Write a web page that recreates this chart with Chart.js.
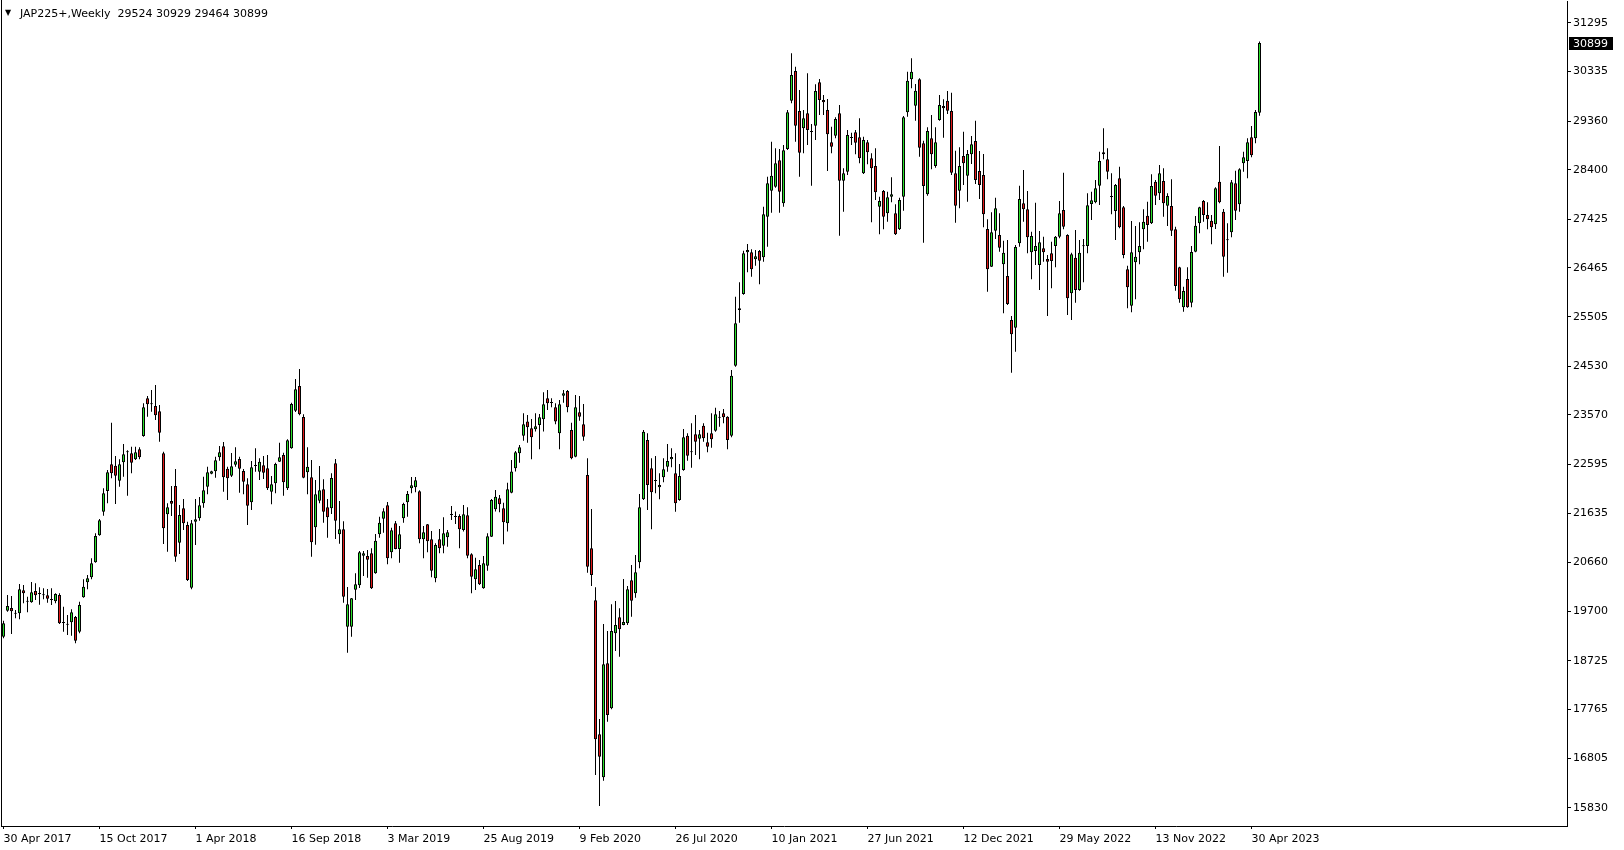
<!DOCTYPE html>
<html>
<head>
<meta charset="utf-8">
<title>JAP225+ Weekly</title>
<script src="https://cdn.jsdelivr.net/npm/chart.js@4.4.1/dist/chart.umd.min.js"></script>
<style>
  html, body { margin: 0; padding: 0; background: #fff; }
  #wrap { position: relative; width: 1624px; height: 850px; }
  #tri { position: absolute; left: 5px; top: 8px; font: 8px "DejaVu Sans", sans-serif; color: #000; }
  #title { position: absolute; left: 20px; top: 7px; font: 11px "DejaVu Sans", sans-serif; color: #000; white-space: pre; line-height: 13px; }
</style>
</head>
<body>
<div id="wrap">
  <canvas id="chart" width="1624" height="850"></canvas>
  <span id="tri">▼</span>
  <div id="title"></div>
</div>
<script>
// Weekly candles, first bar = week of 30 Apr 2017
const opens = [
  19201,19714,19766,19661,19661,20114,19891,19878,20101,20042,
  20029,20016,19937,19898,20022,19484,19438,19484,19589,19300,
  19976,20272,20370,20666,21198,21664,22071,22597,22570,22275,
  22636,22833,22813,22695,22892,23155,23897,23792,23746,23641,
  22813,21611,21874,22170,21053,21730,21401,20167,21467,21533,
  21828,22157,22413,22459,22734,22951,22511,22373,22590,22702,
  22465,22203,21848,22564,22452,22577,22518,22058,22222,22649,
  22780,22124,22912,23654,24140,23529,22439,22340,21355,21881,
  22104,21749,21730,22616,21217,21316,19398,19398,20127,20213,
  20797,20791,20843,20449,21217,21526,21789,20863,21435,20929,
  21533,21848,22124,22144,22065,21119,21415,21119,20351,21119,
  20995,21159,21612,21573,21579,21303,21592,20824,20331,20614,
  20154,20601,21172,21711,21927,21730,21435,22039,22518,22814,
  23162,23438,23306,23287,23372,23484,23897,23819,23720,23208,
  23950,24042,23273,22748,23622,23385,22387,20942,19918,17278,
  16431,18677,17790,19268,19583,19432,19465,20312,20056,20666,
  21907,23076,22517,22281,22143,22340,22550,22695,22419,21894,
  22485,23161,22846,23187,23102,23358,23030,23207,23259,23529,
  23601,23535,23161,24540,25670,25952,26773,26773,26635,26799,
  26674,27475,27988,28067,28586,27739,28809,29761,30346,29558,
  29216,29512,29157,29269,30122,29774,29577,28940,29072,29512,
  28185,28363,29039,29137,29039,28330,28940,28625,28474,27673,
  27982,27542,27870,27542,27226,27870,29531,30181,29662,30181,
  28920,27916,29019,28474,29380,29656,29761,29557,28329,27988,
  28671,28283,28704,28966,28375,28296,27233,26490,27200,27114,
  26536,26307,25440,25289,26950,27738,27620,26773,26799,26523,
  26852,26642,26753,26898,27082,27607,27114,25965,26668,26031,
  26904,26898,27725,27758,28086,28704,28605,27876,27587,28231,
  27659,26438,25722,26576,26773,27226,27495,27344,28165,27935,
  28178,27692,27686,27226,26477,25689,26247,25781,26786,27344,
  27784,27508,27397,27324,28165,27574,27022,27167,28132,27718,
  28526,28572,29038,29019,29524
];
const highs = [
  19517,20022,20003,19727,20239,20219,19989,20278,20252,20173,
  20154,20140,20154,20055,20055,19792,19628,19740,19609,19891,
  20331,20416,20745,21237,21520,22124,22485,23417,22761,22695,
  22997,22872,22945,22945,22931,23798,23943,24061,24159,23765,
  22846,21828,22170,22505,21795,21914,21467,21500,21914,21953,
  22354,22551,22472,22748,22958,23037,22551,22820,22931,22748,
  22505,22321,22662,22912,22715,22761,22780,22367,22629,23023,
  22826,23089,23811,24278,24475,23582,22931,22682,22288,22564,
  22301,21914,22419,22702,21874,21474,20180,19963,20449,20889,
  20889,20909,20942,21224,21565,21730,21855,21349,21481,21382,
  21842,22072,22347,22347,22085,21382,21421,21284,21041,21323,
  21553,21303,21776,21665,21612,21796,21750,20844,20758,20712,
  20791,21238,21914,22091,21993,21842,22236,22682,22860,22978,
  23602,23569,23490,23602,23589,24016,24061,23897,23799,23864,
  24061,24061,23418,23963,23943,23786,22715,21717,20174,17580,
  19451,19314,19839,19905,19760,20338,20200,20614,20811,22013,
  23273,23207,22714,22760,22419,22714,22997,22911,22813,22603,
  23292,23207,23404,23568,23273,23404,23220,23601,23713,23647,
  23686,23542,24455,25899,26182,26806,26937,26832,26819,26819,
  27672,28264,28954,28822,28809,28888,29577,30694,30431,29971,
  29577,30300,29302,30083,30188,29873,29794,29249,29433,29676,
  28428,29183,29131,29183,29413,29052,28986,28724,28822,27870,
  28001,27969,28251,27719,27850,29459,30332,30595,30089,30201,
  28973,29235,29478,29235,29872,29787,29951,29918,28776,28841,
  29150,28789,29065,29367,28769,28710,27423,27561,27850,27541,
  27003,27016,25519,26917,28086,28395,27981,27180,27751,27193,
  27082,26720,26983,27095,27784,28342,27127,26766,27213,27016,
  27036,27935,27968,28198,28756,29216,28822,28329,28119,28461,
  27686,26510,27390,27292,27364,27620,27771,28310,28198,28493,
  28428,27935,28211,27279,26490,26096,26477,26898,27489,27672,
  27804,27758,27508,28053,28868,27627,27344,28198,28382,28428,
  28756,29019,29262,29577,30929
];
const lows = [
  19169,19694,19254,19563,19543,19858,19681,19871,19924,19832,
  19937,19871,19825,19858,19451,19300,19234,19221,19070,19267,
  19970,20134,20331,20660,21191,21585,21828,22321,21815,22157,
  22354,21979,22419,22682,22695,23142,23536,23634,23470,23043,
  21027,20876,21579,20679,20830,21303,20298,20134,21007,21487,
  21743,22006,22400,22334,22669,22058,21894,22347,22551,22038,
  22006,21401,21697,22452,22288,22308,22091,21808,22025,22643,
  21979,22091,22905,23628,23562,22321,22006,20777,21014,21828,
  21447,21152,21618,21126,21034,19871,18886,19201,19924,20160,
  20397,20364,20140,20442,21152,21250,20627,20745,20922,20660,
  21448,21566,22026,22045,21041,20745,20863,20371,20272,20844,
  20844,20975,21500,21422,20942,21271,20745,20056,20121,20220,
  20147,20502,21165,21665,21651,21021,21271,22026,22453,22630,
  23063,23024,22696,23241,22893,23241,23667,23720,23385,22893,
  23812,23622,22696,22735,23457,23063,20463,20200,16477,15866,
  16365,17527,17770,18920,18808,19425,19432,19596,19970,20548,
  21894,21697,21316,22025,21907,22242,22452,22537,21664,21881,
  22472,22668,22531,22780,22695,23043,22833,22925,23240,23338,
  23404,22892,23128,24520,25387,25939,26379,26293,26510,26142,
  26589,26884,27555,28047,27555,27673,28789,29709,28954,28264,
  28724,28888,28087,28986,29479,29479,28376,28724,29019,27102,
  27574,28297,28888,28704,28527,28317,28507,27364,27804,27128,
  27226,27377,27758,27115,27213,27594,29446,30004,29367,28658,
  26963,27889,28408,28441,29367,29032,29498,28296,27357,27640,
  28099,27771,28513,28119,27824,27265,25998,26484,27036,26786,
  25571,25735,24402,24816,26884,27377,26753,26241,26523,26031,
  26589,25519,26064,26477,27049,27226,25538,25440,25781,26018,
  26182,26753,27410,27738,27705,28605,28211,27522,27016,27246,
  26655,25670,25591,25847,26537,26832,26983,27331,27705,27804,
  27475,27292,27095,26018,25781,25604,25683,25689,26773,27147,
  27377,27226,26930,27233,27738,26293,26372,27068,27410,27574,
  28362,28231,28644,28920,29464
];
const closes = [
  19464,19806,19700,19654,20134,20055,19904,20075,20016,20055,
  20016,19950,19924,20042,19464,19471,19451,19681,19123,19825,
  20186,20351,20646,21185,21493,22025,22439,22419,22373,22597,
  22794,22846,22629,22833,22734,23719,23779,23779,23562,23220,
  21336,21749,21822,20777,21598,21434,20318,21434,21513,21789,
  22084,22439,22459,22675,22833,22340,22321,22557,22656,22511,
  22255,21782,22537,22577,22649,22432,22124,22202,22603,22734,
  22242,23069,23785,24074,23582,22334,22551,21060,22006,22084,
  21664,21552,22327,21487,21316,19989,19838,19957,20232,20863,
  20843,20718,20154,21093,21447,21671,20745,21297,20929,21218,
  21816,22013,22183,22282,21119,21257,21080,20502,21008,20942,
  21238,21257,21599,21559,21316,21612,20798,20384,20528,20233,
  20647,21179,21894,21960,21809,21454,22105,22453,22833,22932,
  23385,23326,23129,23346,23523,23779,23799,23805,23438,23779,
  23996,23720,22715,23720,23536,23142,20581,20417,17179,16838,
  18657,17659,19314,19432,19346,19491,20134,19911,20469,21750,
  23240,22189,22045,22268,22189,22498,22662,22741,21828,22366,
  23128,22767,22833,23043,23187,23108,22944,23089,23581,23516,
  23522,23076,24343,25374,25637,26753,26819,26438,26694,26609,
  27521,28132,28284,28527,27969,28783,29531,30267,29269,28737,
  29413,29183,29144,29952,29774,29728,29098,28855,29400,28185,
  28330,29085,29026,28934,28625,28986,28743,28428,27955,27785,
  27476,27857,27916,27128,27804,29432,30155,30332,29958,28835,
  28080,29163,28704,28940,29675,29610,29564,28342,27692,28474,
  28526,28710,28901,28198,28099,27521,26438,27167,27640,26865,
  26766,25755,25157,26878,27824,27620,27068,27095,26898,26970,
  26773,26589,26602,27082,27541,27279,25867,26734,26031,26766,
  26891,27699,27797,28034,28572,28743,28362,27863,28099,27265,
  26720,26083,26773,26688,26898,27377,27311,28080,27889,28329,
  27738,27883,27200,26110,25847,26011,25689,26779,27298,27659,
  27508,27423,27265,28034,27758,26687,27009,28152,27594,28408,
  28644,28940,28684,29538,30899
];

// axis labels
const dateTicks = ['30 Apr 2017', '15 Oct 2017', '1 Apr 2018', '16 Sep 2018', '3 Mar 2019',
  '25 Aug 2019', '9 Feb 2020', '26 Jul 2020', '10 Jan 2021', '27 Jun 2021',
  '12 Dec 2021', '29 May 2022', '13 Nov 2022', '30 Apr 2023'];
const weeksPerTick = 24;
const priceTicks = [31295, 30335, 29360, 28400, 27425, 26465, 25505, 24530, 23570,
  22595, 21635, 20660, 19700, 18725, 17765, 16805, 15830];

const symbol = 'JAP225+';
const period = 'Weekly';

const bull = '#2ae02a';
const bear = '#e01818';
const axisFont = { family: '"DejaVu Sans", sans-serif', size: 11 };

const last = opens.length - 1;
document.getElementById('title').textContent =
  symbol + ',' + period + '  ' + [opens[last], highs[last], lows[last], closes[last]].join(' ');

// left frame line of the price window
const frame = {
  id: 'frame',
  afterDraw(chart) {
    const { ctx, chartArea: a } = chart;
    ctx.save();
    ctx.strokeStyle = '#000';
    ctx.lineWidth = 1;
    ctx.beginPath();
    ctx.moveTo(a.left + 0.5, 0);
    ctx.lineTo(a.left + 0.5, a.bottom);
    ctx.stroke();
    ctx.restore();
  }
};

// black tag with the last close on the price scale
const lastPriceTag = {
  id: 'lastPriceTag',
  afterDraw(chart) {
    const { ctx, chartArea: a, scales: { y } } = chart;
    const price = closes[last];
    const py = Math.round(y.getPixelForValue(price));
    ctx.save();
    ctx.fillStyle = '#000';
    ctx.fillRect(a.right + 2, py - 6, 44, 13);
    ctx.fillStyle = '#fff';
    ctx.font = '11px "DejaVu Sans", sans-serif';
    ctx.textBaseline = 'middle';
    ctx.textAlign = 'left';
    ctx.fillText(String(price), a.right + 6, py + 1);
    ctx.restore();
  }
};

const ctx = document.getElementById('chart');
new Chart(ctx, {
  type: 'bar',
  data: {
    datasets: [
      {
        label: 'Body',
        data: opens.map((o, i) => ({ x: i, y: [o, closes[i]] })),
        backgroundColor: opens.map((o, i) => closes[i] >= o ? bull : bear),
        borderColor: '#000',
        borderWidth: 1,
        borderSkipped: false,
        inflateAmount: 0,
        barThickness: 3,
        minBarLength: 1,
        grouped: false,
        order: 1,
      },
      {
        label: 'Wick',
        data: lows.map((l, i) => ({ x: i, y: [l, highs[i]] })),
        backgroundColor: '#000',
        borderWidth: 0,
        inflateAmount: 0,
        barThickness: 1,
        grouped: false,
        order: 2,
      }
    ]
  },
  options: {
    responsive: false,
    animation: false,
    layout: { padding: { left: 1, top: 1, right: 0, bottom: 0 } },
    plugins: {
      legend: { display: false },
      tooltip: { enabled: false }
    },
    scales: {
      x: {
        type: 'linear',
        bounds: 'data',
        offset: false,
        min: -0.625,
        max: 390.875,
        afterBuildTicks: s => { s.ticks = dateTicks.map((_, k) => ({ value: k * weeksPerTick })); },
        afterFit: s => { s.height = 24; s.paddingLeft = 0; s.paddingRight = 0; },
        grid: { display: true, drawOnChartArea: false, offset: false, tickLength: 3, color: '#000' },
        border: { display: true, color: '#000' },
        ticks: {
          autoSkip: false,
          maxRotation: 0,
          align: 'start',
          padding: 4,
          color: '#000',
          font: axisFont,
          callback: (v, k) => dateTicks[k]
        }
      },
      y: {
        position: 'right',
        bounds: 'data',
        min: 15471.5,
        max: 31724.5,
        afterBuildTicks: s => { s.ticks = priceTicks.map(v => ({ value: v })); },
        afterFit: s => { s.width = 57; s.paddingTop = 0; s.paddingBottom = 0; },
        grid: { display: true, drawOnChartArea: false, tickLength: 4, color: '#000' },
        border: { display: true, color: '#000' },
        ticks: {
          autoSkip: false,
          crossAlign: 'near',
          padding: 2,
          color: '#000',
          font: axisFont,
          callback: v => String(v)
        }
      }
    }
  },
  plugins: [frame, lastPriceTag]
});
</script>
</body>
</html>
